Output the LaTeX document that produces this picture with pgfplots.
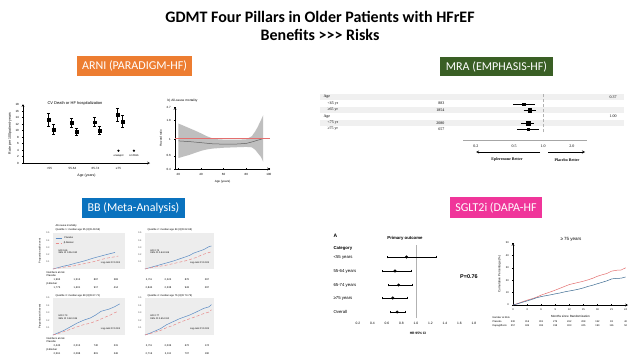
\documentclass[border=0pt]{standalone}
\usepackage{pgfplots}
\pgfplotsset{compat=1.18}
\usepackage{fontspec}
\setmainfont{Carlito}
\newfontfamily\arial{Liberation Sans}
\newfontfamily\tnr{Liberation Serif}
\newcommand\fs[1]{\fontsize{#1}{#1}\selectfont}
\definecolor{arni}{HTML}{ED7D31}
\definecolor{mra}{HTML}{3A5F25}
\definecolor{bb}{HTML}{0A72BE}
\definecolor{sglt}{HTML}{F0359A}
\definecolor{kmblue}{HTML}{5B8BC4}
\definecolor{kmpink}{HTML}{E88A8A}
\definecolor{dred}{HTML}{E46F6F}
\definecolor{dblue}{HTML}{3D6B91}
\pgfplotsset{
 mini/.style={scale only axis, anchor=south west,
   /pgf/number format/assume math mode=true,
   tick label style={font=\arial\fs{3}},
   label style={font=\arial\fs{3.5}},
   major tick length=1.2pt,
   tick style={black, line width=0.3pt},
   axis line style={line width=0.3pt, -},
   clip=false},
 bbkm/.style={mini, xmin=0, xmax=5.4, ymin=0, ymax=0.5,
   axis background/.style={fill=gray!14},
   axis line style={draw=none}, xtick=\empty, ytick={0.1,0.2,0.3,0.4,0.5},
   major tick length=0pt,
   tick label style={font=\arial\fs{2.4}, text=gray!60!black},
   yticklabel style={/pgf/number format/fixed, /pgf/number format/precision=1},
   ylabel style={font=\arial\fs{2.6}, yshift=-2pt}},
}
\begin{document}
\begin{tikzpicture}
\useasboundingbox (0,0) rectangle (640pt,360pt);
\fill[white] (0,0) rectangle (640pt,360pt);

% ---- title
\node[font=\bfseries\fs{16}] at (320pt,343pt) {GDMT Four Pillars in Older Patients with HFrEF};
\node[font=\bfseries\fs{16}] at (320pt,325pt) {Benefits {>}{>}{>} Risks};

% ---- section boxes
\node[fill=arni, text=white, font=\fs{12}, minimum width=115pt, minimum height=20pt, inner sep=0pt] at (134.5pt,294pt) {ARNI (PARADIGM-HF)};
\node[fill=mra, text=white, font=\fs{12}, minimum width=113pt, minimum height=19pt, inner sep=0pt] at (496.5pt,293.5pt) {MRA (EMPHASIS-HF)};
\node[fill=bb, text=white, font=\fs{12}, minimum width=103pt, minimum height=20pt, inner sep=0pt] at (133.5pt,152pt) {BB (Meta-Analysis)};
\node[fill=sglt, text=white, font=\fs{12}, minimum width=92pt, minimum height=21pt, inner sep=0pt] at (496pt,152.5pt) {SGLT2i (DAPA-HF};

% ================= ARNI left: rates by age
\node[font=\arial\fs{4}, anchor=west] at (44pt,257pt) {CV Death or HF hospitalization};
\begin{axis}[mini, at={(23pt,197pt)}, width=127pt, height=59pt,
  axis lines=left, xmin=-0.15, xmax=5.37, ymin=0, ymax=18.2,
  ytick={0,2,...,18}, xtick={1,2,3,4}, xticklabels={<55,55-64,65-74,≥75},
  xtick style={draw=none},
  xlabel={Age (years)}, ylabel={Rate per 100 patient-years},
  xlabel style={yshift=2pt}, ylabel style={yshift=-3pt}]
\addplot[black, only marks, mark=square*, mark size=1.4pt,
  error bars/.cd, y dir=both, y explicit, error bar style={line width=0.4pt}]
  coordinates {
  (0.95,13.3) += (0,2.2) -= (0,1.8)
  (1.95,12.4) += (0,1.4) -= (0,1.4)
  (2.95,12.6) += (0,1.6) -= (0,1.4)
  (3.95,14.8) += (0,2.0) -= (0,1.9)};
\addplot[black, only marks, mark=square*, mark size=1.4pt,
  error bars/.cd, y dir=both, y explicit, error bar style={line width=0.4pt}]
  coordinates {
  (1.17,10.3) += (0,1.7) -= (0,1.5)
  (2.17,9.6) += (0,1.2) -= (0,1.0)
  (3.17,10.0) += (0,1.3) -= (0,1.1)
  (4.17,12.7) += (0,1.9) -= (0,1.6)};
\addplot[black, only marks, mark=*, mark size=0.9pt] coordinates {(4,3.8) (4.67,3.8)};
\node[font=\arial\fs{2.6}] at (axis cs:4,2.3) {enalapril};
\node[font=\arial\fs{2.6}] at (axis cs:4.67,2.3) {LCZ696};
\end{axis}

% ================= ARNI right: spline HR by age
\node[font=\arial\fs{3.2}, anchor=west] at (164pt,259pt) {b) All-cause mortality};
\begin{axis}[mini, at={(175pt,191pt)}, width=95pt, height=62pt,
  axis lines=left, xmin=17, xmax=101, ymode=log, ymin=0.4, ymax=2.7,
  ytick={0.4,0.6,1,1.8,2.7}, yticklabels={0.4,0.6,1,1.8,2.7},
  xtick={20,40,60,80,100}, minor tick num=0,
  xlabel={Age (years)}, ylabel={Hazard ratio},
  label style={font=\arial\fs{3}},
  xlabel style={yshift=2pt}, ylabel style={yshift=-2pt}]
\addplot[fill=gray!50, draw=none] coordinates {
 (20,1.62) (25,1.51) (30,1.40) (35,1.30) (40,1.20) (45,1.10) (50,1.03) (55,1.00) (60,0.99) (65,0.99) (70,0.99) (75,0.99) (80,1.00) (85,1.10) (88,1.28) (90,1.45) (93,1.80) (95,2.10)
 (95,0.50) (93,0.58) (90,0.66) (88,0.72) (85,0.78) (80,0.79) (75,0.785) (70,0.78) (65,0.775) (60,0.77) (55,0.76) (50,0.75) (45,0.73) (40,0.70) (35,0.66) (30,0.62) (25,0.59) (20,0.56)} -- cycle;
\addplot[gray!75!black, line width=0.5pt] coordinates {
 (20,0.95) (30,0.93) (40,0.90) (50,0.87) (60,0.86) (70,0.86) (80,0.88) (85,0.92) (90,0.97) (95,1.02)};
\addplot[dred, line width=0.9pt] coordinates {(17,1.04) (101,1.04)};
\end{axis}

% ================= MRA forest
\foreach \yy in {263,250,237} \fill[gray!12] (320pt,\yy pt-3pt) rectangle (624pt,\yy pt+3pt);
\begin{scope}[font=\tnr\fs{4}]
\node[anchor=west] at (320pt,263pt) {Age};
\node[anchor=west] at (324pt,256.5pt) {<65 yr};
\node[anchor=west] at (324pt,250pt) {≥65 yr};
\node[anchor=west] at (320pt,243.5pt) {Age};
\node[anchor=west] at (324pt,237pt) {<75 yr};
\node[anchor=west] at (324pt,231pt) {≥75 yr};
\node[anchor=east] at (448pt,256.5pt) {883};
\node[anchor=east] at (448pt,250pt) {1854};
\node[anchor=east] at (448pt,237pt) {2080};
\node[anchor=east] at (448pt,231pt) {657};
\node[anchor=west] at (606pt,263pt) {0.37};
\node[anchor=west] at (606pt,243.5pt) {1.00};
\end{scope}
\begin{axis}[mini, at={(463pt,220pt)}, width=124pt, height=48pt,
  xmode=log, xmin=0.147, xmax=2.87, ymin=0, ymax=48,
  axis x line=bottom, axis y line=none, axis line style={-, gray!70},
  xtick={0.2,0.5,1,2}, xticklabels={0.2,0.5,1.0,2.0}, minor tick num=0,
  tick label style={font=\tnr\fs{4}}, tick align=outside, tick style={gray}]
\addplot[densely dashed, gray!60, line width=0.4pt] coordinates {(1,8) (1,47)};
\addplot[black, line width=0.5pt] coordinates {(0.49,36) (0.83,36)};
\addplot[black, line width=0.5pt] coordinates {(0.63,30) (0.85,30)};
\addplot[black, line width=0.5pt] coordinates {(0.59,17) (0.81,17)};
\addplot[black, line width=0.5pt] coordinates {(0.54,11) (0.91,11)};
\addplot[black, only marks, mark=square*, mark size=1.1pt] coordinates {(0.63,36) (0.70,11)};
\addplot[black, only marks, mark=square*, mark size=1.8pt] coordinates {(0.73,30) (0.70,17)};
\end{axis}
\draw[->, >=stealth, line width=0.4pt] (540pt,208pt) -- (476pt,208pt);
\draw[->, >=stealth, line width=0.4pt] (548pt,208pt) -- (585pt,208pt);
\node[font=\tnr\bfseries\fs{4}] at (507pt,200pt) {Eplerenone Better};
\node[font=\tnr\bfseries\fs{4}] at (567pt,200pt) {Placebo Better};

% ================= BB meta-analysis, four KM panels
\begin{scope}[font=\arial\fs{2.6}]
\node[anchor=west] at (52pt,134pt) {All-cause mortality};
\node[anchor=west] at (52pt,130.5pt) {Quartile 1: median age 55 (IQR 49-59)};
\node[anchor=west] at (144pt,130.5pt) {Quartile 2: median age 64 (IQR 62-66)};
\node[anchor=west] at (52pt,64pt) {Quartile 3: median age 69 (IQR 67-71)};
\node[anchor=west] at (144pt,64pt) {Quartile 4: median age 76 (IQR 73-79)};
% numbers at risk
\node[anchor=west] at (43pt,87pt) {Numbers at risk};
\node[anchor=west] at (43pt,84pt) {Placebo};
\node[anchor=west] at (43pt,76.5pt) {β-blocker};
\node[anchor=west] at (43pt,21pt) {Numbers at risk};
\node[anchor=west] at (43pt,18pt) {Placebo};
\node[anchor=west] at (43pt,10.5pt) {β-blocker};
\foreach \x/\a/\b in {57/{1,963}/{1,775}, 77/{1,512}/{1,601}, 96/867/917, 116/383/414}{
  \node at (\x pt,80pt) {\a}; \node at (\x pt,72.5pt) {\b};}
\foreach \x/\a/\b in {149/{2,711}/{2,844}, 168/{2,224}/{2,338}, 187/876/943, 207/267/297}{
  \node at (\x pt,80pt) {\a}; \node at (\x pt,72.5pt) {\b};}
\foreach \x/\a/\b in {57/{2,443}/{2,561}, 77/{2,013}/{2,098}, 96/740/801, 116/231/246}{
  \node at (\x pt,14pt) {\a}; \node at (\x pt,6.5pt) {\b};}
\foreach \x/\a/\b in {149/{2,711}/{2,716}, 168/{2,036}/{2,113}, 187/672/707, 207/174/190}{
  \node at (\x pt,14pt) {\a}; \node at (\x pt,6.5pt) {\b};}
\end{scope}

\begin{axis}[bbkm, at={(53pt,91pt)}, width=72pt, height=36pt, ylabel={Proportion with event},
  legend style={draw=none, fill=none, font=\arial\fs{2.4}, at={(0.03,0.97)}, anchor=north west, inner sep=0pt, row sep=-1.5pt},
  legend image code/.code={\draw[#1] (0pt,0pt) -- (6pt,0pt);}]
\addplot[kmblue, line width=0.5pt] coordinates {(0,0) (0.4,0.02) (0.8,0.04) (1.2,0.055) (1.6,0.076) (2.0,0.095) (2.4,0.115) (3.0,0.15) (3.5,0.175) (4.0,0.2) (4.65,0.23)};
\addplot[kmpink, densely dashed, line width=0.5pt] coordinates {(0,0) (0.4,0.012) (0.8,0.025) (1.2,0.035) (1.6,0.045) (2.0,0.062) (2.5,0.08) (3.0,0.1) (3.5,0.125) (4.0,0.15) (4.5,0.165) (4.9,0.18)};
\legend{Placebo, β-blocker}
\node[font=\arial\fs{2.4}, anchor=west, align=left] at (axis cs:0.15,0.24) {HR 0.66\\95\% CI 0.55-0.80};
\node[font=\arial\fs{2.4}, anchor=south east] at (axis cs:5.3,0.02) {Log-rank P<0.001};
\end{axis}

\begin{axis}[bbkm, at={(145pt,91pt)}, width=69pt, height=36pt]
\addplot[kmblue, line width=0.5pt] coordinates {(0,0) (0.4,0.02) (0.8,0.04) (1.2,0.06) (1.7,0.085) (2.2,0.11) (2.7,0.14) (3.2,0.17) (3.5,0.19) (3.8,0.22) (4.2,0.245) (4.6,0.27) (5.0,0.31) (5.2,0.32)};
\addplot[kmpink, densely dashed, line width=0.5pt] coordinates {(0,0) (0.4,0.015) (0.8,0.03) (1.2,0.04) (1.7,0.054) (2.2,0.075) (2.7,0.095) (3.2,0.115) (3.5,0.13) (4.0,0.16) (4.5,0.2) (5.2,0.24)};
\node[font=\arial\fs{2.4}, anchor=west, align=left] at (axis cs:0.15,0.24) {HR 0.74\\95\% CI 0.64-0.86};
\node[font=\arial\fs{2.4}, anchor=south east] at (axis cs:5.3,0.02) {Log-rank P<0.001};
\end{axis}

\begin{axis}[bbkm, at={(53pt,25pt)}, width=72pt, height=37pt, ylabel={Proportion with event}]
\addplot[kmblue, line width=0.5pt] coordinates {(0,0) (0.4,0.03) (0.8,0.06) (1.2,0.1) (1.8,0.16) (2.3,0.2) (2.8,0.23) (3.2,0.27) (3.6,0.32) (4.2,0.35) (4.6,0.38) (5.0,0.42)};
\addplot[kmpink, densely dashed, line width=0.5pt] coordinates {(0,0) (0.4,0.02) (0.8,0.045) (1.2,0.07) (1.8,0.11) (2.3,0.14) (2.8,0.16) (3.4,0.2) (3.9,0.24) (4.3,0.27) (4.6,0.3) (4.9,0.32)};
\node[font=\arial\fs{2.4}, anchor=west, align=left] at (axis cs:0.15,0.24) {HR 0.73\\95\% CI 0.62-0.85};
\node[font=\arial\fs{2.4}, anchor=south east] at (axis cs:5.3,0.02) {Log-rank P<0.001};
\end{axis}

\begin{axis}[bbkm, at={(145pt,25pt)}, width=69pt, height=37pt]
\addplot[kmblue, line width=0.5pt] coordinates {(0,0) (0.4,0.025) (0.8,0.055) (1.2,0.085) (1.7,0.14) (2.2,0.18) (2.7,0.22) (3.5,0.27) (4.0,0.31) (4.6,0.36) (5.0,0.38) (5.2,0.41)};
\addplot[kmpink, densely dashed, line width=0.5pt] coordinates {(0,0) (0.4,0.02) (0.8,0.04) (1.2,0.06) (1.7,0.1) (2.2,0.13) (2.7,0.17) (3.5,0.22) (4.0,0.25) (4.6,0.29) (5.0,0.31) (5.2,0.34)};
\node[font=\arial\fs{2.4}, anchor=west, align=left] at (axis cs:0.15,0.24) {HR 0.77\\95\% CI 0.65-0.90};
\node[font=\arial\fs{2.4}, anchor=south east] at (axis cs:5.3,0.02) {Log-rank P<0.001};
\end{axis}

% ================= SGLT2i forest
\begin{scope}[font=\arial\fs{4.3}]
\node[anchor=west, font=\arial\bfseries\fs{5}] at (330pt,124pt) {A};
\node[anchor=west, font=\arial\bfseries\fs{4.3}] at (330pt,112pt) {Category};
\node[font=\arial\bfseries\fs{4.3}] at (405pt,122pt) {Primary outcome};
\node[anchor=west] at (330pt,103pt) {<55 years};
\node[anchor=west] at (330pt,89pt) {55-64 years};
\node[anchor=west] at (330pt,75pt) {65-74 years};
\node[anchor=west] at (330pt,62pt) {≥75 years};
\node[anchor=west] at (330pt,48pt) {Overall};
\node[font=\arial\bfseries\fs{5.5}] at (469pt,83pt) {P=0.76};
\node[font=\arial\bfseries\fs{3.3}] at (418pt,27pt) {HR 95\% CI};
\end{scope}
\begin{axis}[mini, at={(350.75pt,42pt)}, width=130.5pt, height=73pt,
  xmin=0.1, xmax=1.9, ymin=0, ymax=73,
  axis x line=bottom, axis y line=none, x axis line style={draw=none},
  xtick={0.2,0.4,...,1.8}, xtick style={draw=none},
  xticklabel style={/pgf/number format/fixed, /pgf/number format/precision=1, /pgf/number format/fixed zerofill, font=\arial\fs{3.3}}]
\addplot[gray!60, line width=0.3pt] coordinates {(1,0) (1,73)};
\addplot[black, only marks, mark=*, mark size=1.3pt,
  error bars/.cd, x dir=both, x explicit, error bar style={line width=0.5pt}]
  coordinates {
  (0.87,61) += (0.41,0) -= (0.27,0)
  (0.71,47) += (0.22,0) -= (0.17,0)
  (0.76,33) += (0.19,0) -= (0.15,0)
  (0.68,20) += (0.20,0) -= (0.15,0)
  (0.74,6) += (0.11,0) -= (0.09,0)};
\end{axis}

% ================= SGLT2i KM >=75
\node[font=\arial\fs{4.5}] at (571pt,121pt) {≥ 75 years};
\begin{axis}[mini, at={(513pt,55pt)}, width=115pt, height=62pt,
  axis lines=left, xmin=0, xmax=24.5, ymin=0, ymax=50,
  xtick={0,3,...,24}, ytick={0,10,...,50},
  tick label style={font=\arial\fs{2.6}},
  label style={font=\arial\fs{3}},
  xlabel={Months since Randomization}, ylabel={Cumulative Percentage (\%)},
  xlabel style={yshift=2.5pt}, ylabel style={yshift=-2pt}]
\addplot[dred, line width=0.5pt] coordinates {(0,0) (1,1.2) (2,2.6) (3,3.9) (4,5.0) (5,6.3) (6,8.0) (7,9.3) (8,10.6) (9,12.0) (10,13.5) (11,15.0) (12,16.5) (13,17.4) (14,18.3) (15,19.2) (16,20.3) (17,21.6) (18,23.2) (19,24.4) (20,25.4) (21,27.3) (22,28.0) (23,28.2) (24,30.0)};
\addplot[dblue, line width=0.5pt] coordinates {(0,0) (1,1.0) (2,2.2) (3,3.3) (4,4.5) (5,5.8) (6,6.8) (7,7.5) (8,8.2) (9,9.0) (10,9.7) (11,10.6) (12,11.3) (13,12.0) (14,12.8) (15,13.8) (16,15.0) (17,16.0) (18,17.2) (19,18.3) (20,19.5) (21,21.0) (22,21.5) (23,21.6) (24,22.6)};
\end{axis}
\begin{scope}[font=\arial\fs{2.5}]
\node[anchor=west] at (489pt,42pt) {Number at Risk};
\node[anchor=west] at (489pt,38pt) {Placebo};
\node[anchor=west] at (489pt,34pt) {Dapagliflozin};
\foreach \m/\a/\b in {0/330/357, 3/316/345, 6/301/334, 9/279/318, 12/262/303, 15/208/245, 18/152/190, 21/93/116, 24/40/52}{
  \node at ({513pt+\m*115pt/24.5},38pt) {\a};
  \node at ({513pt+\m*115pt/24.5},34pt) {\b};}
\end{scope}
\end{tikzpicture}
\end{document}
